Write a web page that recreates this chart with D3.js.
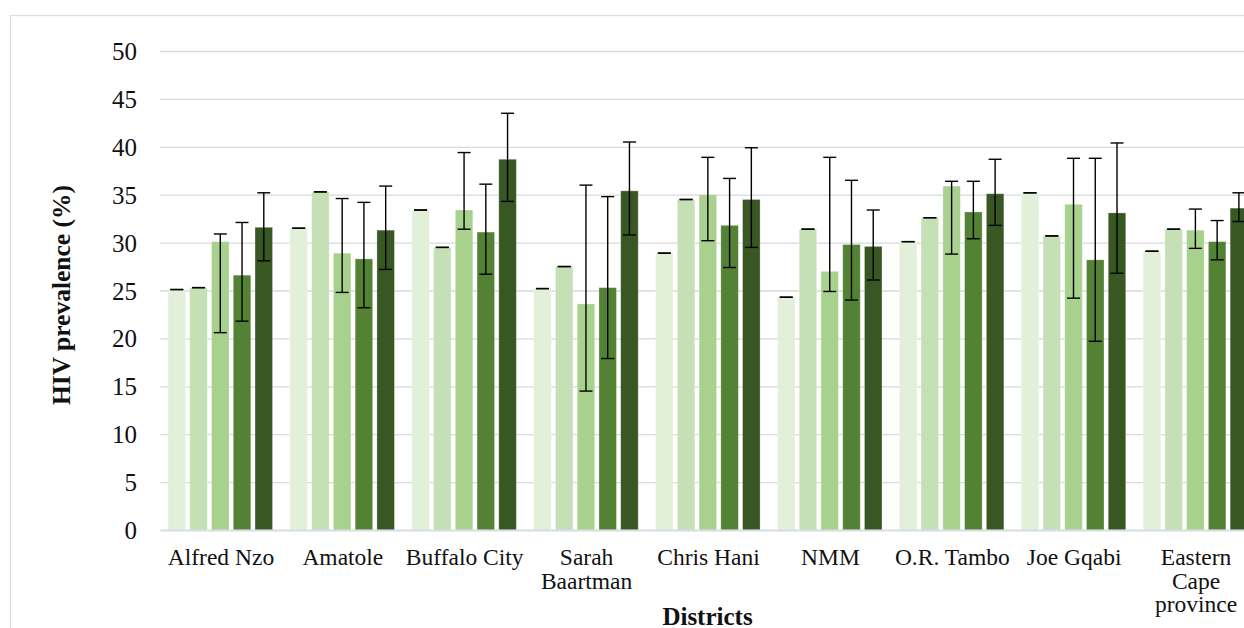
<!DOCTYPE html>
<html>
<head>
<meta charset="utf-8">
<script src="https://cdn.jsdelivr.net/npm/d3@7"></script>
<style>
  html, body { margin: 0; padding: 0; background: #ffffff; }
  svg { display: block; }
  text { font-family: "Liberation Serif", "Times New Roman", serif; fill: #111111; }
</style>
</head>
<body>
<svg id="chart" width="1244" height="628"></svg>
<script>
// Districts shown along the x axis (line breaks as printed)
const categories = ["Alfred Nzo", "Amatole", "Buffalo City", "Sarah Baartman", "Chris Hani",
                    "NMM", "O.R. Tambo", "Joe Gqabi", "Eastern Cape province"];
const categoryLines = [["Alfred Nzo"], ["Amatole"], ["Buffalo City"], ["Sarah", "Baartman"],
                       ["Chris Hani"], ["NMM"], ["O.R. Tambo"], ["Joe Gqabi"], ["Eastern", "Cape", "province"]];

// HIV prevalence (%) per district for five series, with lower / upper confidence limits
const series1 = [25.1, 31.5, 33.4, 25.2, 28.9, 24.3, 30.1, 35.2, 29.1];
const series1Lo = [25.1, 31.5, 33.4, 25.2, 28.9, 24.3, 30.1, 35.2, 29.1];
const series1Hi = [25.1, 31.5, 33.4, 25.2, 28.9, 24.3, 30.1, 35.2, 29.1];

const series2 = [25.3, 35.3, 29.5, 27.5, 34.5, 31.4, 32.6, 30.7, 31.4];
const series2Lo = [25.3, 35.3, 29.5, 27.5, 34.5, 31.4, 32.6, 30.7, 31.4];
const series2Hi = [25.3, 35.3, 29.5, 27.5, 34.5, 31.4, 32.6, 30.7, 31.4];

const series3 = [30.1, 28.9, 33.4, 23.6, 35.0, 27.0, 35.9, 34.0, 31.3];
const series3Lo = [20.6, 24.8, 31.4, 14.5, 30.2, 24.9, 28.8, 24.2, 29.4];
const series3Hi = [30.9, 34.6, 39.4, 36.0, 38.9, 38.9, 36.4, 38.8, 33.5];

const series4 = [26.6, 28.3, 31.1, 25.3, 31.8, 29.8, 33.2, 28.2, 30.1];
const series4Lo = [21.8, 23.2, 26.7, 17.9, 27.4, 24.0, 30.4, 19.7, 28.2];
const series4Hi = [32.1, 34.2, 36.1, 34.8, 36.7, 36.5, 36.4, 38.8, 32.3];

const series5 = [31.6, 31.3, 38.7, 35.4, 34.5, 29.6, 35.1, 33.1, 33.6];
const series5Lo = [28.1, 27.2, 34.3, 30.8, 29.5, 26.1, 31.8, 26.8, 32.2];
const series5Hi = [35.2, 35.9, 43.5, 40.5, 39.9, 33.4, 38.7, 40.4, 35.2];

const seriesColors = ["#E2F0D9", "#C5E0B4", "#A9D18E", "#548235", "#385723"];

const yTicks = [0, 5, 10, 15, 20, 25, 30, 35, 40, 45, 50];
const yTitle = "HIV prevalence (%)";
const xTitle = "Districts";

// Assemble series records for drawing
const seriesList = [
  { key: "s1", values: series1, lo: series1Lo, hi: series1Hi },
  { key: "s2", values: series2, lo: series2Lo, hi: series2Hi },
  { key: "s3", values: series3, lo: series3Lo, hi: series3Hi },
  { key: "s4", values: series4, lo: series4Lo, hi: series4Hi },
  { key: "s5", values: series5, lo: series5Lo, hi: series5Hi }
];

const svg = d3.select("#chart");

// Plot area (extends slightly past the right edge of the canvas)
const plot = { left: 160, right: 1257, top: 51, bottom: 530 };

// Outer chart frame
svg.append("rect")
  .attr("x", 10.5).attr("y", 15.5)
  .attr("width", 1300).attr("height", 700)
  .attr("fill", "none")
  .attr("stroke", "#D9DEE8")
  .attr("stroke-width", 1.3);

const y = d3.scaleLinear().domain([0, 50]).range([plot.bottom, plot.top]);
const x0 = d3.scaleBand().domain(categories).range([plot.left, plot.right]).padding(0);
const bw = x0.bandwidth();
const x1 = d3.scaleBand()
  .domain(seriesList.map(s => s.key))
  .range([bw * 0.0485, bw * 0.0485 + 108.75])
  .paddingInner(0.195)
  .paddingOuter(0.0975);

// Horizontal gridlines
const grid = svg.append("g")
  .attr("transform", `translate(${plot.left},0)`)
  .call(d3.axisLeft(y).tickValues(yTicks.filter(t => t > 0))
        .tickSize(-(plot.right - plot.left)).tickFormat(""));
grid.select(".domain").remove();
grid.selectAll(".tick line").attr("stroke", "#D9D9D9").attr("stroke-width", 1.3);

// Y tick labels
const yAxis = svg.append("g")
  .attr("transform", `translate(${plot.left},0)`)
  .call(d3.axisLeft(y).tickValues(yTicks).tickSize(0).tickPadding(23).tickFormat(d3.format("d")));
yAxis.select(".domain").remove();
yAxis.selectAll(".tick text")
  .attr("font-family", "Liberation Serif, Times New Roman, serif")
  .attr("font-size", 25)
  .attr("fill", "#111111")
  .attr("dy", "0.34em");

// Bars
const groups = svg.append("g").selectAll("g.cat")
  .data(categories)
  .join("g")
  .attr("class", "cat")
  .attr("transform", d => `translate(${x0(d)},0)`);

groups.selectAll("rect")
  .data((d, i) => seriesList.map((s, j) => ({ key: s.key, j, v: s.values[i] })))
  .join("rect")
  .attr("x", d => x1(d.key))
  .attr("y", d => y(d.v))
  .attr("width", x1.bandwidth())
  .attr("height", d => y(0) - y(d.v))
  .attr("fill", d => seriesColors[d.j])
  .attr("stroke", "#ffffff")
  .attr("stroke-opacity", 0.35)
  .attr("stroke-width", 0.8);

// Error bars
const capHalf = 6.5;
const errs = groups.selectAll("g.err")
  .data((d, i) => seriesList.map(s => ({ key: s.key, lo: s.lo[i], hi: s.hi[i] })))
  .join("g")
  .attr("class", "err")
  .attr("transform", d => `translate(${x1(d.key) + x1.bandwidth() / 2},0)`)
  .attr("stroke", "#000000")
  .attr("stroke-width", 1.4);

errs.append("line").attr("x1", 0).attr("x2", 0)
  .attr("y1", d => y(d.hi)).attr("y2", d => y(d.lo));
errs.append("line").attr("x1", -capHalf).attr("x2", capHalf)
  .attr("y1", d => y(d.hi)).attr("y2", d => y(d.hi));
errs.append("line").attr("x1", -capHalf).attr("x2", capHalf)
  .attr("y1", d => y(d.lo)).attr("y2", d => y(d.lo));

// X axis line and category labels
const xAxis = svg.append("g")
  .attr("transform", `translate(0,${plot.bottom})`)
  .call(d3.axisBottom(x0).tickSize(0).tickFormat(""));
xAxis.select(".domain")
  .attr("stroke", "#D6DCE5")
  .attr("stroke-width", 2);

const lineH = 23.5;
xAxis.selectAll(".tick").each(function (d, i) {
  const t = d3.select(this).append("text")
    .attr("y", 565 - plot.bottom)
    .attr("text-anchor", "middle")
    .attr("font-family", "Liberation Serif, Times New Roman, serif")
    .attr("font-size", 23.5)
    .attr("fill", "#111111");
  categoryLines[i].forEach((ln, k) => {
    t.append("tspan").attr("x", 0).attr("y", 565 - plot.bottom + k * lineH).text(ln);
  });
});

// Axis titles
svg.append("text")
  .attr("transform", "translate(70,295) rotate(-90)")
  .attr("text-anchor", "middle")
  .attr("font-size", 25.5)
  .attr("font-weight", "bold")
  .text(yTitle);

svg.append("text")
  .attr("x", 707.5).attr("y", 625)
  .attr("text-anchor", "middle")
  .attr("font-size", 25)
  .attr("font-weight", "bold")
  .text(xTitle);
</script>
</body>
</html>
